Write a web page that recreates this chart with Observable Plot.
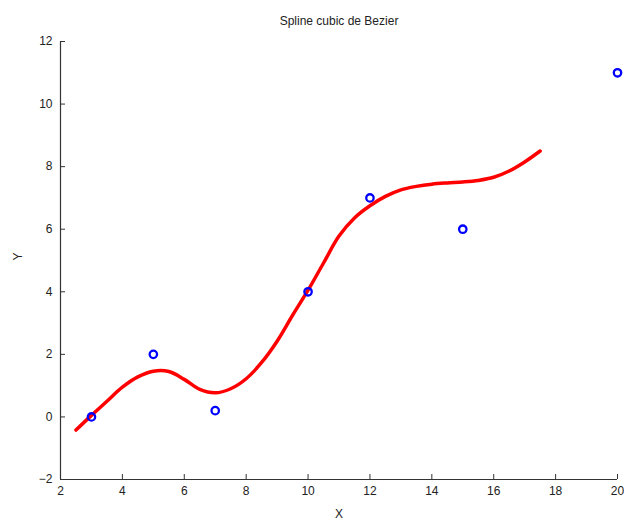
<!DOCTYPE html>
<html>
<head>
<meta charset="utf-8">
<script src="https://cdn.jsdelivr.net/npm/d3@7"></script>
<script src="https://cdn.jsdelivr.net/npm/@observablehq/plot@0.6"></script>
<style>
  html, body { margin: 0; padding: 0; background: #fff; }
  #chart svg { display: block; }
</style>
</head>
<body>
<div id="chart"></div>
<script>
const title = "Spline cubic de Bezier";
const xLabel = "X";
const yLabel = "Y";

// control points (blue circles)
const pointX = [3, 5, 7, 10, 12, 15, 20];
const pointY = [0, 2, 0.2, 4, 7, 6, 11];

// red Bezier spline
const curveX = [2.5, 3, 3.5, 4, 4.5, 5, 5.5, 6, 6.5, 7, 7.5, 8, 8.5, 9, 9.5, 10, 10.5, 11, 11.5, 12, 12.5, 13, 13.5, 14, 14.5, 15, 15.5, 16, 16.5, 17, 17.5];
const curveY = [-0.42, 0.05, 0.5, 0.95, 1.28, 1.46, 1.45, 1.2, 0.88, 0.77, 0.9, 1.22, 1.74, 2.42, 3.25, 4.05, 4.92, 5.78, 6.36, 6.75, 7.05, 7.26, 7.37, 7.44, 7.48, 7.51, 7.56, 7.66, 7.86, 8.15, 8.5];

const xTicks = [2, 4, 6, 8, 10, 12, 14, 16, 18, 20];
const yTicks = [-2, 0, 2, 4, 6, 8, 10, 12];

const points = pointX.map((x, i) => ({x, y: pointY[i]}));
const curve = curveX.map((x, i) => ({x, y: curveY[i]}));

const axisColor = "#333";

const chart = Plot.plot({
  width: 624,
  height: 523,
  marginLeft: 60,
  marginRight: 7,
  marginTop: 41,
  marginBottom: 44,
  style: {fontFamily: "'Liberation Sans', Arial, sans-serif", fontSize: "12px", color: "#222", background: "#fff"},
  x: {domain: [2, 20]},
  y: {domain: [-2, 12]},
  marks: [
    Plot.axisX({ticks: xTicks, tickSize: -5, tickPadding: 12, label: null, stroke: axisColor}),
    Plot.axisY({ticks: yTicks, tickSize: -5, tickPadding: 13, label: null, stroke: axisColor}),
    Plot.ruleX([2], {stroke: axisColor, strokeWidth: 1.2}),
    Plot.ruleY([-2], {stroke: axisColor, strokeWidth: 1.2}),
    Plot.line(curve, {x: "x", y: "y", stroke: "red", strokeWidth: 3.5, curve: "catmull-rom"}),
    Plot.dot(points, {x: "x", y: "y", r: 3.7, stroke: "blue", strokeWidth: 2.3, fill: "none"}),
    Plot.text([title], {frameAnchor: "top", dy: -25, fontSize: 12, fill: "#222"}),
    Plot.text([xLabel], {frameAnchor: "bottom", dy: 38, fontSize: 12, fill: "#222"}),
    Plot.text([yLabel], {frameAnchor: "left", dx: -42, rotate: -90, fontSize: 12, fill: "#222"})
  ]
});
document.getElementById("chart").append(chart);
</script>
</body>
</html>
